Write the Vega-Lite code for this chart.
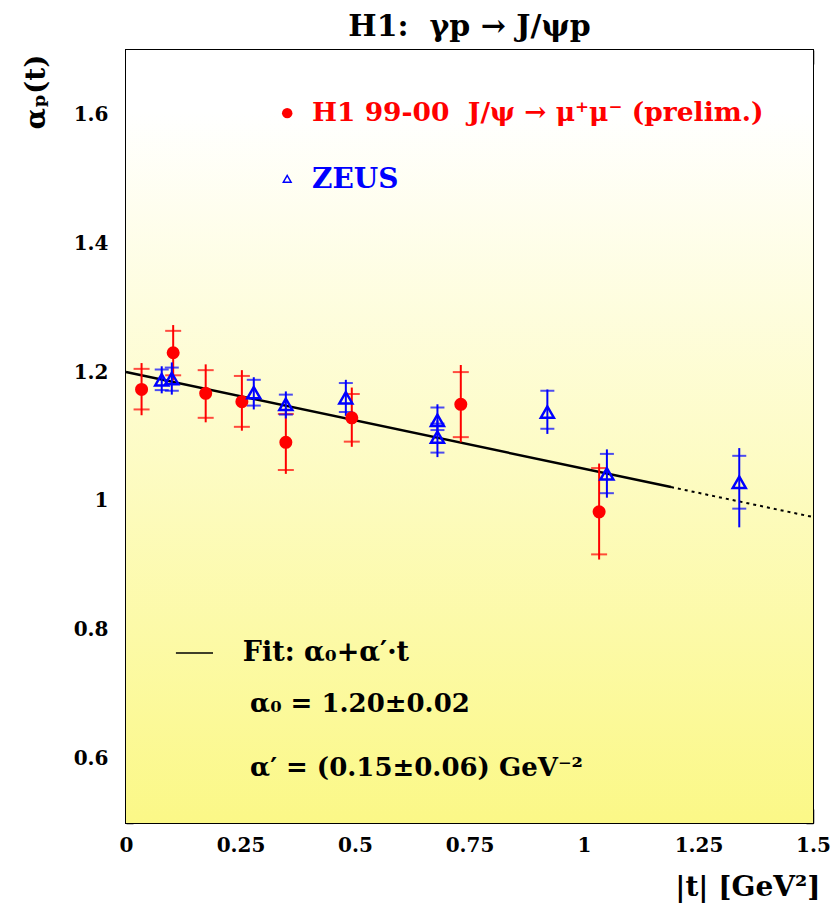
{
  "$schema": "https://vega.github.io/schema/vega-lite/v6.json",
  "autosize": "none",
  "width": 687,
  "height": 773,
  "padding": {"left": 126, "top": 50, "right": 18, "bottom": 80},
  "background": "#ffffff",
  "config": {
    "view": {"stroke": "#000000", "strokeWidth": 2},
    "font": "DejaVu Serif",
    "axis": {
      "labelFont": "DejaVu Serif",
      "labelFontWeight": "bold",
      "labelFontSize": 20,
      "labelColor": "#000000",
      "titleFont": "DejaVu Serif",
      "titleFontWeight": "bold",
      "titleColor": "#000000",
      "tickColor": "#000000",
      "tickWidth": 1.5,
      "domain": false,
      "grid": false
    }
  },
  "title": {
    "text": "H1:\u00a0 γp → J/ψp",
    "font": "DejaVu Serif",
    "fontWeight": "bold",
    "fontSize": 30,
    "color": "#000000",
    "anchor": "middle",
    "offset": 12,
    "dy": 14
  },
  "datasets": {
    "h1": [
      {"t": 0.034, "a": 1.173, "slo": 1.142, "shi": 1.205, "tlo": 1.133, "thi": 1.214},
      {"t": 0.103, "a": 1.230, "slo": 1.195, "shi": 1.264, "tlo": 1.187, "thi": 1.273},
      {"t": 0.174, "a": 1.167, "slo": 1.129, "shi": 1.203, "tlo": 1.122, "thi": 1.212},
      {"t": 0.253, "a": 1.154, "slo": 1.115, "shi": 1.194, "tlo": 1.109, "thi": 1.203},
      {"t": 0.349, "a": 1.091, "slo": 1.048, "shi": 1.135, "tlo": 1.042, "thi": 1.144},
      {"t": 0.493, "a": 1.129, "slo": 1.092, "shi": 1.166, "tlo": 1.084, "thi": 1.176},
      {"t": 0.731, "a": 1.150, "slo": 1.099, "shi": 1.200, "tlo": 1.091, "thi": 1.211},
      {"t": 1.033, "a": 0.983, "slo": 0.917, "shi": 1.051, "tlo": 0.909, "thi": 1.058}
    ],
    "zeus": [
      {"t": 0.078, "a": 1.188, "slo": 1.172, "shi": 1.204, "tlo": 1.167, "thi": 1.209},
      {"t": 0.100, "a": 1.190, "slo": 1.171, "shi": 1.207, "tlo": 1.165, "thi": 1.215},
      {"t": 0.279, "a": 1.168, "slo": 1.148, "shi": 1.188, "tlo": 1.142, "thi": 1.192},
      {"t": 0.349, "a": 1.150, "slo": 1.134, "shi": 1.165, "tlo": 1.128, "thi": 1.170},
      {"t": 0.480, "a": 1.160, "slo": 1.138, "shi": 1.183, "tlo": 1.132, "thi": 1.188},
      {"t": 0.680, "a": 1.125, "slo": 1.110, "shi": 1.145, "tlo": 1.105, "thi": 1.150},
      {"t": 0.680, "a": 1.099, "slo": 1.075, "shi": 1.120, "tlo": 1.068, "thi": 1.125},
      {"t": 0.920, "a": 1.138, "slo": 1.112, "shi": 1.171, "tlo": 1.104, "thi": 1.173},
      {"t": 1.050, "a": 1.042, "slo": 1.012, "shi": 1.073, "tlo": 1.005, "thi": 1.080},
      {"t": 1.339, "a": 1.029, "slo": 0.988, "shi": 1.070, "tlo": 0.959, "thi": 1.082}
    ],
    "fit": [
      {"segment": "solid", "t": 0.0, "a": 1.200},
      {"segment": "solid", "t": 1.19, "a": 1.0215},
      {"segment": "dotted", "t": 1.19, "a": 1.0215},
      {"segment": "dotted", "t": 1.5, "a": 0.975}
    ],
    "one": [{}]
  },
  "resolve": {"axis": {"x": "independent", "y": "independent"}},
  "layer": [
    {
      "data": {"name": "one"},
      "mark": {"type": "rect", "color": {"gradient": "linear", "x1": 0, "y1": 0, "x2": 0, "y2": 1, "stops": [{"offset": 0, "color": "#ffffff"}, {"offset": 0.08, "color": "#ffffff"}, {"offset": 1, "color": "#fbf887"}]}},
      "encoding": {
        "x": {"datum": 0, "type": "quantitative", "scale": {"domain": [0, 1.5], "nice": false, "zero": false},
          "axis": {
            "orient": "bottom",
            "values": [0,0.05,0.1,0.15,0.2,0.25,0.3,0.35,0.4,0.45,0.5,0.55,0.6,0.65,0.7,0.75,0.8,0.85,0.9,0.95,1,1.05,1.1,1.15,1.2,1.25,1.3,1.35,1.4,1.45,1.5],
            "tickSize": {"condition": {"test": "abs(datum.value*4 - round(datum.value*4)) < 0.001", "value": -14}, "value": -7},
            "labelExpr": "abs(datum.value*4 - round(datum.value*4)) < 0.001 ? '' + datum.value : ''",
            "labelPadding": 26,
            "labelFlush": false,
            "labelOverlap": false,
            "title": "|t| [GeV²]",
            "titleFontSize": 28,
            "titleAlign": "right",
            "titleAnchor": null,
            "titleX": 694,
            "titleY": 72,
            "titleBaseline": "alphabetic"
          }},
        "x2": {"datum": 1.5},
        "y": {"datum": 0.5, "type": "quantitative", "scale": {"domain": [0.5, 1.7], "nice": false, "zero": false},
          "axis": {
            "orient": "left",
            "values": [0.5,0.55,0.6,0.65,0.7,0.75,0.8,0.85,0.9,0.95,1,1.05,1.1,1.15,1.2,1.25,1.3,1.35,1.4,1.45,1.5,1.55,1.6,1.65,1.7],
            "tickSize": {"condition": {"test": "abs(datum.value*5 - round(datum.value*5)) < 0.001", "value": -14}, "value": -7},
            "labelExpr": "abs(datum.value*5 - round(datum.value*5)) < 0.001 && datum.value > 0.55 && datum.value < 1.65 ? '' + datum.value : ''",
            "labelPadding": 32,
            "labelFlush": false,
            "labelOverlap": false,
            "title": "αₚ(t)",
            "titleFontSize": 28,
            "titleAngle": -90,
            "titleAlign": "right",
            "titleAnchor": null,
            "titleX": -90,
            "titleY": 4,
            "titleBaseline": "middle"
          }},
        "y2": {"datum": 1.7}
      }
    },
    {
      "data": {"name": "fit"},
      "transform": [{"filter": "datum.segment === 'solid'"}],
      "mark": {"type": "line", "color": "#000000", "strokeWidth": 2.5},
      "encoding": {
        "x": {"field": "t", "type": "quantitative",
          "axis": {
            "orient": "top",
            "values": [0,0.05,0.1,0.15,0.2,0.25,0.3,0.35,0.4,0.45,0.5,0.55,0.6,0.65,0.7,0.75,0.8,0.85,0.9,0.95,1,1.05,1.1,1.15,1.2,1.25,1.3,1.35,1.4,1.45,1.5],
            "tickSize": {"condition": {"test": "abs(datum.value*4 - round(datum.value*4)) < 0.001", "value": -14}, "value": -7},
            "labels": false,
            "title": null
          }},
        "y": {"field": "a", "type": "quantitative",
          "axis": {
            "orient": "right",
            "values": [0.5,0.55,0.6,0.65,0.7,0.75,0.8,0.85,0.9,0.95,1,1.05,1.1,1.15,1.2,1.25,1.3,1.35,1.4,1.45,1.5,1.55,1.6,1.65,1.7],
            "tickSize": {"condition": {"test": "abs(datum.value*5 - round(datum.value*5)) < 0.001", "value": -14}, "value": -7},
            "labels": false,
            "title": null
          }}
      }
    },
    {
      "data": {"name": "fit"},
      "transform": [{"filter": "datum.segment === 'dotted'"}],
      "mark": {"type": "line", "color": "#000000", "strokeWidth": 2, "strokeDash": [3, 4]},
      "encoding": {
        "x": {"field": "t", "type": "quantitative", "axis": null},
        "y": {"field": "a", "type": "quantitative", "axis": null}
      }
    },
    {
      "data": {"name": "h1"},
      "mark": {"type": "rule", "color": "#ff0000", "strokeWidth": 2},
      "encoding": {
        "x": {"field": "t", "type": "quantitative", "axis": null},
        "y": {"field": "tlo", "type": "quantitative", "axis": null},
        "y2": {"field": "thi"}
      }
    },
    {
      "data": {"name": "h1"},
      "mark": {"type": "tick", "orient": "horizontal", "color": "#ff0000", "size": 16, "thickness": 2},
      "encoding": {
        "x": {"field": "t", "type": "quantitative", "axis": null},
        "y": {"field": "slo", "type": "quantitative", "axis": null}
      }
    },
    {
      "data": {"name": "h1"},
      "mark": {"type": "tick", "orient": "horizontal", "color": "#ff0000", "size": 16, "thickness": 2},
      "encoding": {
        "x": {"field": "t", "type": "quantitative", "axis": null},
        "y": {"field": "shi", "type": "quantitative", "axis": null}
      }
    },
    {
      "data": {"name": "zeus"},
      "mark": {"type": "rule", "color": "#0000ff", "strokeWidth": 2},
      "encoding": {
        "x": {"field": "t", "type": "quantitative", "axis": null},
        "y": {"field": "tlo", "type": "quantitative", "axis": null},
        "y2": {"field": "thi"}
      }
    },
    {
      "data": {"name": "zeus"},
      "mark": {"type": "tick", "orient": "horizontal", "color": "#0000ff", "size": 14, "thickness": 2},
      "encoding": {
        "x": {"field": "t", "type": "quantitative", "axis": null},
        "y": {"field": "slo", "type": "quantitative", "axis": null}
      }
    },
    {
      "data": {"name": "zeus"},
      "mark": {"type": "tick", "orient": "horizontal", "color": "#0000ff", "size": 14, "thickness": 2},
      "encoding": {
        "x": {"field": "t", "type": "quantitative", "axis": null},
        "y": {"field": "shi", "type": "quantitative", "axis": null}
      }
    },
    {
      "data": {"name": "h1"},
      "mark": {"type": "circle", "color": "#ff0000", "size": 170, "opacity": 1},
      "encoding": {
        "x": {"field": "t", "type": "quantitative", "axis": null},
        "y": {"field": "a", "type": "quantitative", "axis": null}
      }
    },
    {
      "data": {"name": "zeus"},
      "mark": {"type": "point", "shape": "triangle-up", "filled": false, "stroke": "#0000ff", "strokeWidth": 2.5, "size": 170, "opacity": 1},
      "encoding": {
        "x": {"field": "t", "type": "quantitative", "axis": null},
        "y": {"field": "a", "type": "quantitative", "axis": null}
      }
    },
    {
      "data": {"name": "one"},
      "mark": {"type": "circle", "color": "#ff0000", "size": 110, "opacity": 1},
      "encoding": {
        "x": {"datum": 0.352, "type": "quantitative", "axis": null},
        "y": {"datum": 1.602, "type": "quantitative", "axis": null}
      }
    },
    {
      "data": {"name": "one"},
      "mark": {"type": "text", "text": "H1 99-00\u00a0 J/ψ → μ⁺μ⁻ (prelim.)", "color": "#ff0000", "font": "DejaVu Serif", "fontWeight": "bold", "fontSize": 26.5, "align": "left", "baseline": "middle"},
      "encoding": {
        "x": {"datum": 0.406, "type": "quantitative", "axis": null},
        "y": {"datum": 1.602, "type": "quantitative", "axis": null}
      }
    },
    {
      "data": {"name": "one"},
      "mark": {"type": "point", "shape": "triangle-up", "filled": false, "stroke": "#0000ff", "strokeWidth": 1.5, "size": 60, "opacity": 1},
      "encoding": {
        "x": {"datum": 0.352, "type": "quantitative", "axis": null},
        "y": {"datum": 1.5, "type": "quantitative", "axis": null}
      }
    },
    {
      "data": {"name": "one"},
      "mark": {"type": "text", "text": "ZEUS", "color": "#0000ff", "font": "DejaVu Serif", "fontWeight": "bold", "fontSize": 28, "align": "left", "baseline": "middle"},
      "encoding": {
        "x": {"datum": 0.406, "type": "quantitative", "axis": null},
        "y": {"datum": 1.498, "type": "quantitative", "axis": null}
      }
    },
    {
      "data": {"name": "one"},
      "mark": {"type": "rule", "color": "#000000", "strokeWidth": 1.5},
      "encoding": {
        "x": {"datum": 0.109, "type": "quantitative", "axis": null},
        "x2": {"datum": 0.19},
        "y": {"datum": 0.764, "type": "quantitative", "axis": null}
      }
    },
    {
      "data": {"name": "one"},
      "mark": {"type": "text", "text": "Fit: α₀+α′·t", "color": "#000000", "font": "DejaVu Serif", "fontWeight": "bold", "fontSize": 27, "align": "left", "baseline": "middle"},
      "encoding": {
        "x": {"datum": 0.255, "type": "quantitative", "axis": null},
        "y": {"datum": 0.764, "type": "quantitative", "axis": null}
      }
    },
    {
      "data": {"name": "one"},
      "mark": {"type": "text", "text": "α₀ = 1.20±0.02", "color": "#000000", "font": "DejaVu Serif", "fontWeight": "bold", "fontSize": 26, "align": "left", "baseline": "middle"},
      "encoding": {
        "x": {"datum": 0.271, "type": "quantitative", "axis": null},
        "y": {"datum": 0.684, "type": "quantitative", "axis": null}
      }
    },
    {
      "data": {"name": "one"},
      "mark": {"type": "text", "text": "α′ = (0.15±0.06) GeV⁻²", "color": "#000000", "font": "DejaVu Serif", "fontWeight": "bold", "fontSize": 26, "align": "left", "baseline": "middle"},
      "encoding": {
        "x": {"datum": 0.271, "type": "quantitative", "axis": null},
        "y": {"datum": 0.586, "type": "quantitative", "axis": null}
      }
    }
  ]
}
